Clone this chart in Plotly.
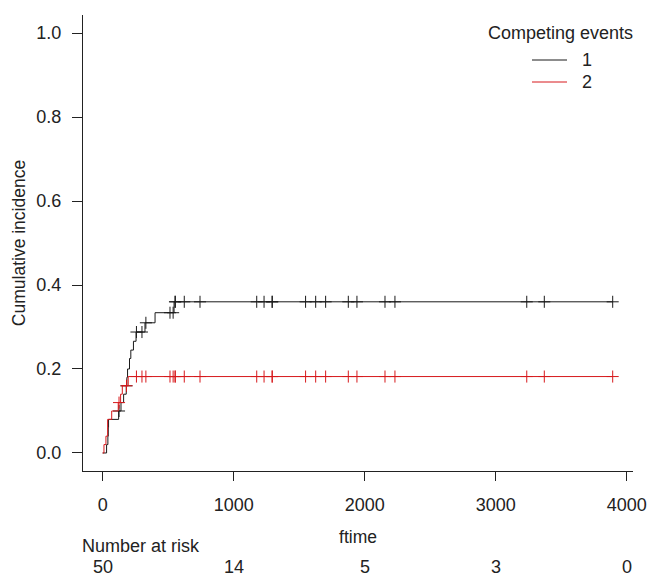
import plotly.graph_objects as go
import numpy as np

# ---- data ----
event1_time = [0, 30, 40, 43, 45, 122, 140, 160, 180, 185, 190, 205, 215, 235, 255, 323, 400, 545]
event1_cif = [0, 0.02, 0.04, 0.06, 0.08, 0.10, 0.12, 0.14, 0.16, 0.18, 0.20, 0.225, 0.245, 0.266, 0.288, 0.31, 0.334, 0.36]

event2_time = [0, 10, 25, 38, 69, 119, 137, 150, 195]
event2_cif = [0, 0.02, 0.04, 0.08, 0.10, 0.12, 0.14, 0.16, 0.182]

censor_time = [125, 182, 258, 300, 330, 514, 538, 552, 555, 623, 743, 1176, 1232, 1293, 1295,
               1549, 1626, 1702, 1875, 1941, 2155, 2231, 3237, 3371, 3893]

risk_time = [0, 1000, 2000, 3000, 4000]
risk_n = [50, 14, 5, 3, 0]

x_ticks = [0, 1000, 2000, 3000, 4000]
y_ticks = [0.0, 0.2, 0.4, 0.6, 0.8, 1.0]
y_ticklabels = ["0.0", "0.2", "0.4", "0.6", "0.8", "1.0"]

legend_names = ["1", "2"]
colors = ["#1a1a1a", "#d7191c"]
series = [
    (legend_names[0], event1_time, event1_cif, colors[0]),
    (legend_names[1], event2_time, event2_cif, colors[1]),
]

FONT = "Liberation Sans, Arial, Helvetica, sans-serif"
TXT = "#222222"
FS = 18
FS_TITLE = 17.5

W, H = 649, 576
ML, MR, MT, MB = 83, 16, 15, 105
PW, PH = W - ML - MR, H - MT - MB

end_time = max(censor_time)


def step_value(times, vals, t):
    idx = np.searchsorted(np.asarray(times), t, side="right") - 1
    return vals[idx]


def px_x(px):
    return (px - ML) / PW


def px_y(py):
    return (H - MB - py) / PH


fig = go.Figure()
for name, t, c, col in series:
    xs = list(t) + [end_time]
    ys = list(c) + [c[-1]]
    fig.add_trace(go.Scatter(x=xs, y=ys, mode="lines", name=name,
                             line=dict(color=col, width=1, shape="hv"),
                             showlegend=False))
    cy = [step_value(t, c, ct) for ct in censor_time]
    fig.add_trace(go.Scatter(x=censor_time, y=cy, mode="markers", showlegend=False,
                             marker=dict(symbol="cross-thin", size=8.6,
                                         line=dict(color=col, width=1)),
                             hoverinfo="skip"))

annotations = [
    dict(text="Competing events", xref="paper", yref="paper", x=px_x(560), y=px_y(33),
         xanchor="center", yanchor="middle", showarrow=False, font=dict(size=FS, color=TXT, family=FONT)),
    dict(text="Number at risk", xref="paper", yref="paper", x=0, y=0, yshift=-75, xshift=-3,
         xanchor="left", yanchor="middle", showarrow=False, font=dict(size=FS, color=TXT, family=FONT)),
]
shapes = []
for i, (name, col) in enumerate(zip(legend_names, colors)):
    ly = 60 + 22 * i
    shapes.append(dict(type="line", xref="paper", yref="paper", x0=px_x(532), x1=px_x(567),
                       y0=px_y(ly), y1=px_y(ly), line=dict(color=col, width=1)))
    annotations.append(dict(text=name, xref="paper", yref="paper", x=px_x(580), y=px_y(ly),
                            xanchor="left", yanchor="middle", showarrow=False,
                            font=dict(size=FS, color=TXT, family=FONT)))
for rt, rn in zip(risk_time, risk_n):
    annotations.append(dict(text=str(rn), xref="x", yref="paper", x=rt, y=0, yshift=-96,
                            xanchor="center", yanchor="middle", showarrow=False, borderpad=0,
                            font=dict(size=FS, color=TXT, family=FONT)))

fig.update_layout(
    width=W, height=H,
    margin=dict(l=ML, r=MR, t=MT, b=MB),
    paper_bgcolor="white", plot_bgcolor="white",
    font=dict(family=FONT, size=FS, color=TXT),
    annotations=annotations,
    shapes=shapes,
    showlegend=False,
    xaxis=dict(range=[-150, 4048], tickvals=x_ticks, ticks="outside", ticklen=9, tickwidth=1,
               tickcolor="#222", showline=True, linecolor="#222", linewidth=1,
               showgrid=False, zeroline=False,
               title=dict(text="ftime", standoff=17, font=dict(size=FS_TITLE, color=TXT, family=FONT)),
               automargin=False, tickfont=dict(size=FS), ticklabelstandoff=8),
    yaxis=dict(range=[-0.0429, 1.0429], tickvals=y_ticks, ticktext=y_ticklabels,
               ticks="outside", ticklen=10, tickwidth=1, tickcolor="#222",
               showline=True, linecolor="#222", linewidth=1,
               showgrid=False, zeroline=False,
               title=dict(text="Cumulative incidence", standoff=6,
                          font=dict(size=FS_TITLE, color=TXT, family=FONT)),
               automargin=False, tickfont=dict(size=FS), ticklabelstandoff=7),
)

fig.write_html("out.html", config={"displayModeBar": False},
               post_script="document.body.style.margin='0px';")
